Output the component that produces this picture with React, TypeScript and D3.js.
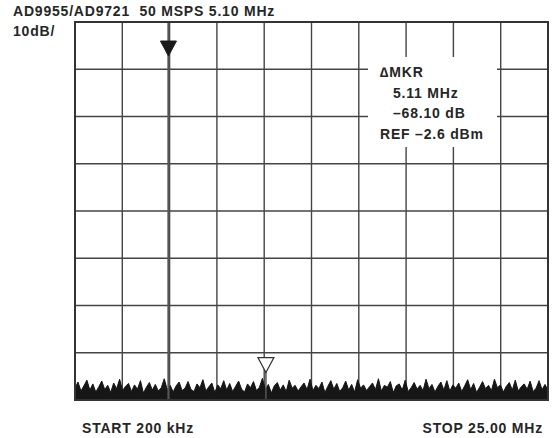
import React from 'react';
import * as d3 from 'd3';

// spectrum analyzer settings (MHz / dB relative to REF)
const startFreq = 0.2;
const stopFreq = 25.0;
const refLevel = 0;
const bottomLevel = -80;
const xDivisions = 10;
const yDivisions = 8;

// noise floor trace, evenly spaced sweep points, dB
const noiseLevels = [
  -77.5, -76.2, -78.1, -77.0, -75.8, -77.9, -76.6, -78.3, -77.2, -76.0, -77.8, -76.9, -78.4, -76.4, -77.6, -75.6, -78.0, -77.1, -76.5, -78.2,
  -76.8, -77.7, -75.9, -78.5, -77.3, -76.3, -77.9, -76.7, -78.1, -77.4, -75.5, -77.8, -76.9, -78.3, -77.0, -76.2, -78.0, -77.5, -76.1, -77.8,
  -78.2, -76.6, -77.4, -75.7, -78.1, -77.2, -76.4, -78.4, -76.8, -77.6, -75.9, -77.9, -76.5, -78.2, -77.1, -76.0, -77.7, -78.3, -76.6, -77.4,
  -76.1, -78.0, -77.3, -75.4, -77.8, -76.7, -78.5, -77.0, -76.3, -77.9, -76.8, -78.2, -75.8, -77.5, -76.9, -78.1, -77.2, -76.4, -77.8, -75.6,
  -78.0, -76.9, -77.6, -76.2, -78.4, -77.1, -75.9, -77.7, -76.5, -78.2, -77.4, -76.0, -77.9, -76.7, -78.3, -75.7, -77.5, -76.8, -78.0, -77.2,
  -76.4, -77.8, -75.5, -78.1, -76.9, -77.3, -76.1, -78.4, -77.0, -76.6, -77.9, -75.8, -78.2, -77.4, -76.3, -77.7, -76.9, -78.0, -75.6, -77.6,
  -76.7, -78.3, -77.1, -76.2, -77.9, -75.9, -78.1, -76.8, -77.5, -76.4, -78.2, -77.0, -75.7, -77.8, -76.5, -78.4, -77.3, -76.1, -77.6, -76.9,
  -78.0, -75.6, -77.4, -76.8, -78.3, -77.1, -76.3, -77.9, -75.8, -78.1, -77.2, -76.6, -77.7, -76.0, -78.2, -77.5, -75.9, -77.8, -76.7, -78.0,
];

// carrier and 2nd harmonic
const spurFreqs = [5.1, 10.21];
const spurLevels = [0, -74];
const spurWidths = [2.2, 1.5];

// markers: filled = reference marker, hollow = delta marker
const markerFreqs = [5.1, 10.21];
const markerLevels = [-7.2, -74.2];
const markerFilled = [true, false];

const title = 'AD9955/AD9721\u00a0 50 MSPS 5.10 MHz';
const scaleLabel = '10dB/';
const readoutLines = ['\u2206MKR', '5.11 MHz', '\u201368.10 dB', 'REF \u20132.6 dBm'];
const startLabel = 'START 200 kHz';
const stopLabel = 'STOP 25.00 MHz';

const width = 552;
const height = 438;
const plot = { left: 75, top: 22, right: 548, bottom: 400 };
const font = '"Liberation Sans", Arial, Helvetica, sans-serif';
const ink = '#262626';

export default function App() {
  const x = d3.scaleLinear().domain([startFreq, stopFreq]).range([plot.left, plot.right]);
  const y = d3.scaleLinear().domain([bottomLevel, refLevel]).range([plot.bottom, plot.top]);

  const step = (stopFreq - startFreq) / (noiseLevels.length - 1);
  const trace = noiseLevels.map((v, i) => ({ f: startFreq + i * step, v }));

  const area = d3.area<{ f: number; v: number }>()
    .x(d => x(d.f))
    .y0(y(bottomLevel))
    .y1(d => y(d.v));
  const line = d3.line<{ f: number; v: number }>()
    .x(d => x(d.f))
    .y(d => y(d.v));

  const xGrid = d3.range(1, xDivisions).map(i => plot.left + (i * (plot.right - plot.left)) / xDivisions);
  const yGrid = d3.range(1, yDivisions).map(i => plot.top + (i * (plot.bottom - plot.top)) / yDivisions);

  const tri = 8;
  const triH = 15;
  const textStyle = { letterSpacing: '0.8px' };

  return (
    <svg width={width} height={height} style={{ position: 'absolute', left: 0, top: 0, background: '#fff' }}>
      <g stroke="#444" strokeWidth={1.4}>
        {xGrid.map((gx, i) => (
          <line key={'x' + i} x1={gx} x2={gx} y1={plot.top} y2={plot.bottom} />
        ))}
        {yGrid.map((gy, i) => (
          <line key={'y' + i} x1={plot.left} x2={plot.right} y1={gy} y2={gy} />
        ))}
      </g>

      {/* readout box blanks the grid */}
      <rect x={368} y={57} width={129} height={90} fill="#fff" />
      <g fontFamily={font} fontSize={14} fontWeight={600} fill={ink} style={textStyle}>
        <text x={380} y={77}>{readoutLines[0]}</text>
        <text x={393} y={97.5}>{readoutLines[1]}</text>
        <text x={393} y={118}>{readoutLines[2]}</text>
        <text x={380} y={138.5}>{readoutLines[3]}</text>
      </g>

      {/* trace */}
      <path d={area(trace) || ''} fill="#161616" />
      <path d={line(trace) || ''} fill="none" stroke="#161616" strokeWidth={1} />
      {spurFreqs.map((f, i) => (
        <line key={'s' + i} x1={x(f)} x2={x(f)} y1={y(bottomLevel)} y2={y(spurLevels[i])}
          stroke="#555" strokeWidth={spurWidths[i]} />
      ))}

      {/* markers */}
      {markerFreqs.map((f, i) => {
        const mx = x(f);
        const my = y(markerLevels[i]);
        return (
          <path key={'m' + i}
            d={`M${mx - tri},${my - triH}L${mx + tri},${my - triH}L${mx},${my}Z`}
            fill={markerFilled[i] ? '#1a1a1a' : '#fff'}
            stroke={markerFilled[i] ? '#1a1a1a' : '#333'}
            strokeWidth={markerFilled[i] ? 1 : 1.2} />
        );
      })}

      <rect x={plot.left} y={plot.top} width={plot.right - plot.left} height={plot.bottom - plot.top}
        fill="none" stroke="#333" strokeWidth={2} />

      <g fontFamily={font} fontSize={14} fontWeight={600} fill={ink} style={textStyle}>
        <text x={13} y={16}>{title}</text>
        <text x={13} y={36}>{scaleLabel}</text>
        <text x={82} y={433}>{startLabel}</text>
        <text x={543} y={433} textAnchor="end">{stopLabel}</text>
      </g>
    </svg>
  );
}
